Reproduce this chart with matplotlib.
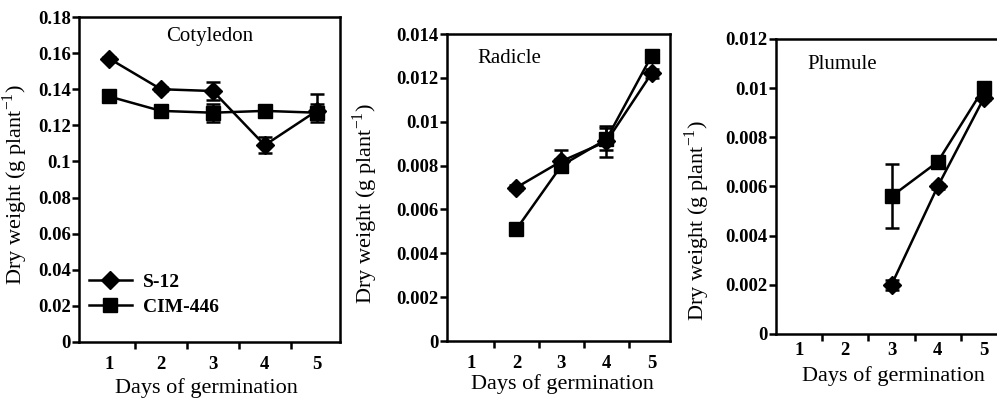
import matplotlib
matplotlib.use("Agg")
import matplotlib.pyplot as plt
from matplotlib.ticker import FixedLocator, NullFormatter

plt.rcParams['font.family'] = ['Liberation Serif', 'DejaVu Serif']
plt.rcParams['mathtext.fontset'] = 'custom'
plt.rcParams['mathtext.rm'] = 'Liberation Serif'

# Cotyledon
cot_days = [1, 2, 3, 4, 5]
cot_s12 = [0.157, 0.140, 0.139, 0.109, 0.128]
cot_s12_lo = [0.001, 0.001, 0.005, 0.0045, 0.0]
cot_s12_hi = [0.001, 0.001, 0.005, 0.0045, 0.0095]
cot_cim = [0.136, 0.128, 0.127, 0.128, 0.127]
cot_cim_err = [0.001, 0.001, 0.005, 0.001, 0.005]

# Radicle
rad_days = [2, 3, 4, 5]
rad_s12 = [0.0070, 0.0082, 0.0091, 0.0122]
rad_s12_err = [0.0001, 0.0005, 0.0007, 0.0002]
rad_cim = [0.0051, 0.0080, 0.0092, 0.0130]
rad_cim_err = [0.0001, 0.0003, 0.0005, 0.0001]

# Plumule
plu_days = [3, 4, 5]
plu_s12 = [0.0020, 0.0060, 0.0096]
plu_s12_err = [0.0002, 0.0001, 0.0001]
plu_cim = [0.0056, 0.0070, 0.0100]
plu_cim_err = [0.0013, 0.0001, 0.0001]

day_labels = ['1', '2', '3', '4', '5']

W, H = 997, 400


def px_axes(fig, left, right, top, bottom):
    return fig.add_axes([left / W, 1 - bottom / H, (right - left) / W, (bottom - top) / H])


def style_axes(ax, xlim, ymax, ystep, title, title_xy, title_ha, xlab_xy, ylab_xy, xpad=10):
    ax.set_xlim(*xlim)
    ax.set_ylim(0, ymax)
    n = int(round(ymax / ystep))
    yt = [i * ystep for i in range(n + 1)]
    ax.set_yticks(yt)
    ax.set_yticklabels(['0'] + [f'{v:g}' for v in yt[1:]], fontweight='bold', fontsize=13.5)
    # tick marks between days, labels under days
    ax.xaxis.set_major_locator(FixedLocator([1.5, 2.5, 3.5, 4.5]))
    ax.xaxis.set_major_formatter(NullFormatter())
    ax.xaxis.set_minor_locator(FixedLocator([1, 2, 3, 4, 5]))
    ax.set_xticklabels(day_labels, minor=True, fontweight='bold', fontsize=13.5)
    ax.tick_params(axis='x', which='minor', length=0, pad=xpad)
    ax.tick_params(axis='both', which='major', length=5, width=1.8, direction='out')
    ax.tick_params(axis='y', pad=1)
    for s in ax.spines.values():
        s.set_linewidth(1.8)
    ax.set_xlabel('Days of germination', fontsize=16)
    ax.xaxis.set_label_coords(*xlab_xy)
    ax.set_ylabel('Dry weight (g plant$^{\\mathregular{-1}}$)', fontsize=16)
    ax.yaxis.set_label_coords(*ylab_xy)
    ax.text(title_xy[0], title_xy[1], title, transform=ax.transAxes,
            ha=title_ha, va='center', fontsize=15)


def series(ax, x, y, err, marker, ms):
    c = ax.errorbar(x, y, yerr=err, color='black', marker=marker, markersize=ms,
                    linewidth=1.8, elinewidth=1.8, capsize=5, capthick=1.8)
    return c[0]


fig = plt.figure(figsize=(W / 100, H / 100), dpi=100)

ax1 = px_axes(fig, 79, 340, 17, 342)
h1 = series(ax1, cot_days, cot_s12, [cot_s12_lo, cot_s12_hi], 'D', 9)
h2 = series(ax1, cot_days, cot_cim, cot_cim_err, 's', 10)
style_axes(ax1, (0.42, 5.45), 0.18, 0.02, 'Cotyledon', (0.5, 0.94), 'center',
           (0.49, -0.112), (-0.188, 0.483))
ax1.legend([h1, h2], ['S-12', 'CIM-446'], loc='lower left', bbox_to_anchor=(0.0, 0.05),
           frameon=False, handlelength=2.2, handletextpad=0.6, borderaxespad=0.1,
           labelspacing=0.4, prop={'weight': 'bold', 'size': 14})

ax2 = px_axes(fig, 447, 670, 34, 341)
series(ax2, rad_days, rad_s12, rad_s12_err, 'D', 9)
series(ax2, rad_days, rad_cim, rad_cim_err, 's', 10)
style_axes(ax2, (0.46, 5.41), 0.014, 0.002, 'Radicle', (0.135, 0.92), 'left',
           (0.516, -0.107), (-0.30, 0.446))

ax3 = px_axes(fig, 776, 1007, 39, 334)
series(ax3, plu_days, plu_s12, plu_s12_err, 'D', 9)
series(ax3, plu_days, plu_cim, plu_cim_err, 's', 10)
style_axes(ax3, (0.5, 5.5), 0.012, 0.002, 'Plumule', (0.134, 0.915), 'left',
           (0.51, -0.108), (-0.277, 0.386), xpad=6)

fig.savefig('out.png', dpi=100)
